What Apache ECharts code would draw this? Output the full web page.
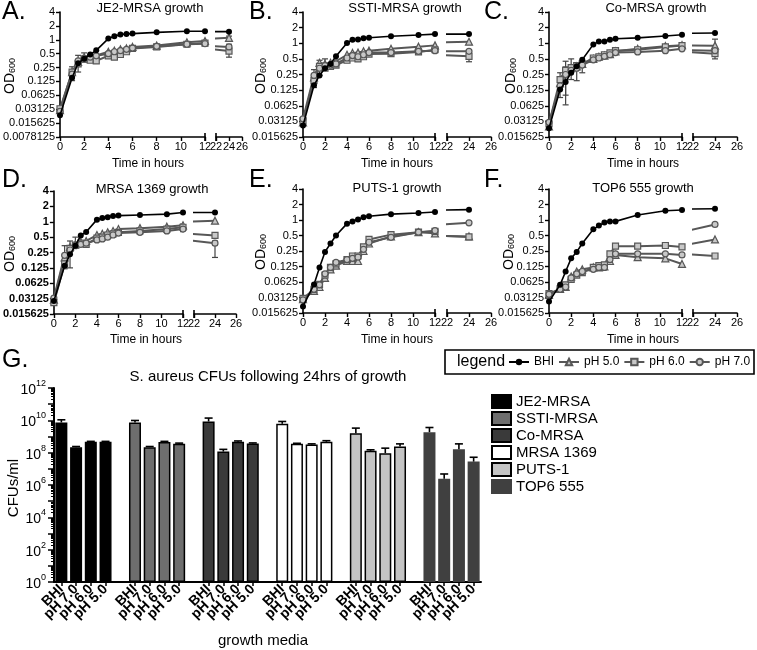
<!DOCTYPE html>
<html><head><meta charset="utf-8">
<script src="https://cdn.jsdelivr.net/npm/echarts@6/dist/echarts.min.js"></script>
<style>html,body{margin:0;padding:0;background:#fff}#c{width:757px;height:650px}</style>
</head><body><div id="c"></div>
<script>
const FONT = '"Liberation Sans", Arial, Helvetica, sans-serif';

// ---------- growth curves (OD600) ----------
const hours = [0, 1, 1.5, 2, 2.5, 3, 4, 4.5, 5, 5.5, 6, 8, 10.5, 12, 24];
const seriesNames = ['BHI', 'pH 5.0', 'pH 6.0', 'pH 7.0'];
const panelTitles = ['JE2-MRSA growth', 'SSTI-MRSA growth', 'Co-MRSA growth', 'MRSA 1369 growth', 'PUTS-1 growth', 'TOP6 555 growth'];
const panelLetters = ['A.', 'B.', 'C.', 'D.', 'E.', 'F.'];

const je2_BHI = [0.023, 0.15, 0.31, 0.39, 0.48, 0.59, 1.06, 1.19, 1.3, 1.34, 1.36, 1.45, 1.53, 1.53, 1.5];
const je2_pH5 = [0.03, 0.2, 0.33, 0.4, 0.43, 0.46, 0.55, 0.58, 0.62, 0.65, 0.7, 0.75, 0.88, 0.94, 1.1];
const je2_pH6 = [0.032, 0.2, 0.3, 0.38, 0.36, 0.35, 0.45, 0.42, 0.48, 0.55, 0.65, 0.7, 0.8, 0.85, 0.57];
const je2_pH7 = [0.028, 0.18, 0.35, 0.4, 0.42, 0.45, 0.5, 0.55, 0.58, 0.62, 0.66, 0.72, 0.8, 0.82, 0.7];
const je2_err = [[1, 0.13, 0.26], [1.5, 0.2, 0.46], [2, 0.33, 0.52], [2.5, 0.34, 0.48], [24, 0.42, 0.8], [24, 1.0, 1.2]];

const ssti_BHI = [0.026, 0.155, 0.24, 0.33, 0.4, 0.56, 1.01, 1.17, 1.18, 1.25, 1.28, 1.36, 1.44, 1.5, 1.5];
const ssti_pH5 = [0.03, 0.22, 0.42, 0.4, 0.42, 0.45, 0.6, 0.65, 0.66, 0.7, 0.72, 0.78, 0.86, 0.91, 1.07];
const ssti_pH6 = [0.032, 0.19, 0.36, 0.33, 0.36, 0.38, 0.47, 0.52, 0.5, 0.55, 0.62, 0.63, 0.68, 0.75, 0.56];
const ssti_pH7 = [0.035, 0.24, 0.33, 0.37, 0.38, 0.4, 0.52, 0.58, 0.55, 0.6, 0.66, 0.66, 0.7, 0.72, 0.7];
const ssti_err = [[1, 0.14, 0.31], [1.5, 0.24, 0.47], [2, 0.33, 0.5], [24, 0.44, 0.7]];

const co_BHI = [0.023, 0.128, 0.18, 0.27, 0.36, 0.48, 0.95, 1.08, 1.08, 1.17, 1.22, 1.27, 1.38, 1.46, 1.58];
const co_pH5 = [0.025, 0.17, 0.28, 0.33, 0.36, 0.4, 0.5, 0.55, 0.58, 0.62, 0.7, 0.78, 0.88, 0.92, 0.9];
const co_pH6 = [0.028, 0.2, 0.3, 0.34, 0.37, 0.4, 0.52, 0.55, 0.6, 0.65, 0.72, 0.75, 0.85, 0.9, 0.63];
const co_pH7 = [0.03, 0.15, 0.25, 0.3, 0.33, 0.38, 0.48, 0.52, 0.56, 0.6, 0.66, 0.68, 0.72, 0.78, 0.72];
const co_err = [[1, 0.09, 0.27], [1.5, 0.065, 0.35], [1.5, 0.1, 0.45], [2, 0.2, 0.5], [2.5, 0.19, 0.42], [3, 0.27, 0.4], [24, 0.8, 1.2], [24, 0.5, 0.75]];

const m1369_BHI = [0.028, 0.137, 0.23, 0.34, 0.54, 0.63, 1.1, 1.19, 1.23, 1.29, 1.32, 1.36, 1.41, 1.52, 1.52];
const m1369_pH5 = [0.03, 0.2, 0.32, 0.36, 0.4, 0.42, 0.55, 0.58, 0.62, 0.66, 0.72, 0.75, 0.8, 0.85, 1.05];
const m1369_pH6 = [0.026, 0.15, 0.3, 0.35, 0.38, 0.36, 0.48, 0.5, 0.55, 0.58, 0.62, 0.66, 0.72, 0.78, 0.54];
const m1369_pH7 = [0.032, 0.22, 0.28, 0.34, 0.36, 0.38, 0.44, 0.46, 0.5, 0.55, 0.6, 0.62, 0.66, 0.72, 0.38];
const m1369_err = [[1, 0.12, 0.34], [1.5, 0.125, 0.42], [2, 0.34, 0.5], [12, 0.64, 0.9], [24, 0.2, 0.42]];

const puts_BHI = [0.021, 0.056, 0.12, 0.24, 0.35, 0.5, 0.85, 0.93, 1.02, 1.13, 1.18, 1.3, 1.37, 1.43, 1.59];
const puts_pH5 = [0.029, 0.042, 0.05, 0.075, 0.11, 0.13, 0.16, 0.16, 0.16, 0.25, 0.35, 0.48, 0.58, 0.55, 0.48];
const puts_pH6 = [0.03, 0.045, 0.056, 0.085, 0.12, 0.14, 0.17, 0.2, 0.2, 0.3, 0.42, 0.52, 0.58, 0.6, 0.47];
const puts_pH7 = [0.028, 0.045, 0.055, 0.09, 0.12, 0.15, 0.17, 0.18, 0.19, 0.27, 0.37, 0.46, 0.58, 0.62, 0.88];
const puts_err = [];

const top6_BHI = [0.026, 0.055, 0.1, 0.18, 0.24, 0.35, 0.66, 0.78, 0.89, 0.94, 0.94, 1.25, 1.51, 1.56, 1.65];
const top6_pH5 = [0.035, 0.046, 0.05, 0.08, 0.1, 0.11, 0.12, 0.12, 0.125, 0.16, 0.21, 0.19, 0.18, 0.14, 0.42];
const top6_pH6 = [0.037, 0.046, 0.055, 0.07, 0.085, 0.095, 0.12, 0.13, 0.135, 0.22, 0.31, 0.31, 0.32, 0.3, 0.2];
const top6_pH7 = [0.036, 0.045, 0.05, 0.075, 0.09, 0.1, 0.11, 0.12, 0.12, 0.17, 0.22, 0.22, 0.22, 0.21, 0.82];
const top6_err = [];

const growth = [
  [je2_BHI, je2_pH5, je2_pH6, je2_pH7],
  [ssti_BHI, ssti_pH5, ssti_pH6, ssti_pH7],
  [co_BHI, co_pH5, co_pH6, co_pH7],
  [m1369_BHI, m1369_pH5, m1369_pH6, m1369_pH7],
  [puts_BHI, puts_pH5, puts_pH6, puts_pH7],
  [top6_BHI, top6_pH5, top6_pH6, top6_pH7]
];
const growthErr = [je2_err, ssti_err, co_err, m1369_err, puts_err, top6_err];

// ---------- CFU bar chart ----------
const strains = ['JE2-MRSA', 'SSTI-MRSA', 'Co-MRSA', 'MRSA 1369', 'PUTS-1', 'TOP6 555'];
const mediaLabels = ['BHI', 'pH 7.0', 'pH 6.0', 'pH 5.0'];
const cfu_je2 = [7.4e9, 2.2e8, 4.7e8, 4.7e8];
const cfu_ssti = [7.4e9, 2.2e8, 4.6e8, 3.6e8];
const cfu_co = [8.5e9, 1.17e8, 4.7e8, 3.7e8];
const cfu_1369 = [6.1e9, 3.5e8, 3.2e8, 4.7e8];
const cfu_puts = [1.6e9, 1.3e8, 9.3e7, 2.4e8];
const cfu_top6 = [1.86e9, 2.4e6, 1.6e8, 2.8e7];
const cfuErr_je2 = [1.08e10, 2.4e8, 5e8, 5e8];
const cfuErr_ssti = [9.8e9, 2.4e8, 5e8, 3.9e8];
const cfuErr_co = [1.38e10, 1.6e8, 5.3e8, 4e8];
const cfuErr_1369 = [8.5e9, 3.8e8, 3.5e8, 5.5e8];
const cfuErr_puts = [3.3e9, 1.5e8, 1.9e8, 3.5e8];
const cfuErr_top6 = [3.6e9, 4.8e6, 3.5e8, 5.2e7];
const cfuValues = [cfu_je2, cfu_ssti, cfu_co, cfu_1369, cfu_puts, cfu_top6];
const cfuErrors = [cfuErr_je2, cfuErr_ssti, cfuErr_co, cfuErr_1369, cfuErr_puts, cfuErr_top6];

// ---------- layout / styles ----------
const layout = [
  {L: [54, 205], R: [216, 242], top: 12, bot: 137, ymin: 0.0078125, letter: [2, 0], title: [150, 8], xt: [148, 164], od: [8, 76]},
  {L: [303, 435], R: [447, 491], top: 12, bot: 137, ymin: 0.015625, letter: [249, 0], title: [405, 8], xt: [397, 164], od: [259, 76]},
  {L: [549, 682], R: [693, 737], top: 12, bot: 137, ymin: 0.015625, letter: [484, 0], title: [656, 8], xt: [643, 164], od: [509, 76]},
  {L: [53, 183], R: [194, 236], top: 191, bot: 314, ymin: 0.015625, letter: [2, 168], title: [152, 189], xt: [146, 340], od: [8, 254], bold: true},
  {L: [303, 435], R: [447, 491], top: 189, bot: 313, ymin: 0.015625, letter: [249, 168], title: [397, 188], xt: [397, 340], od: [259, 252]},
  {L: [549, 682], R: [693, 737], top: 189, bot: 313, ymin: 0.015625, letter: [484, 168], title: [643, 188], xt: [643, 340], od: [507, 252]}
];
const GREY = '#575757';
const seriesStyle = [
  {symbol: 'circle', symbolSize: 6, itemStyle: {color: '#000'}, lineStyle: {color: '#000', width: 1.6}, z: 5},
  {symbol: 'triangle', symbolSize: 7, itemStyle: {color: '#c8c8c8', borderColor: GREY, borderWidth: 1.2}, lineStyle: {color: GREY, width: 2}, z: 3},
  {symbol: 'rect', symbolSize: 6, itemStyle: {color: '#c8c8c8', borderColor: GREY, borderWidth: 1.2}, lineStyle: {color: GREY, width: 2}, z: 3},
  {symbol: 'circle', symbolSize: 6, itemStyle: {color: '#c8c8c8', borderColor: GREY, borderWidth: 1.2}, lineStyle: {color: GREY, width: 2}, z: 3}
];
const barFill = ['#000000', '#6e6e6e', '#3a3a3a', '#ffffff', '#c4c4c4', '#404040'];
const barBorder = ['#000', '#000', '#000', '#000', '#000', '#404040'];

const grids = [], xAxes = [], yAxes = [], series = [], graphics = [];
const axisBase = {
  axisLine: {show: true, lineStyle: {color: '#000', width: 1.6}},
  axisTick: {show: true, length: 4, lineStyle: {color: '#000', width: 1.4}},
  splitLine: {show: false}
};
function fmtNum(v) { return String(parseFloat(v.toPrecision(8))); }

function errRender(params, api) {
  const x = api.value(0);
  const a = api.coord([x, api.value(2)]);
  const b = api.coord([x, api.value(1)]);
  const w = 3, st = {stroke: '#444', lineWidth: 1.2};
  return {type: 'group', children: [
    {type: 'line', shape: {x1: a[0], y1: a[1], x2: b[0], y2: b[1]}, style: st},
    {type: 'line', shape: {x1: a[0] - w, y1: a[1], x2: a[0] + w, y2: a[1]}, style: st},
    {type: 'line', shape: {x1: b[0] - w, y1: b[1], x2: b[0] + w, y2: b[1]}, style: st}
  ]};
}

growth.forEach((panel, pi) => {
  const lay = layout[pi];
  [['L', 0, 12], ['R', 22, 26]].forEach(([side, mn, mx], j) => {
    const [x0, x1] = lay[side];
    grids.push({left: x0, top: lay.top, width: x1 - x0, height: lay.bot - lay.top});
    const gi = grids.length - 1;
    xAxes.push(Object.assign({}, axisBase, {
      gridIndex: gi, type: 'value', min: mn, max: mx, interval: 2,
      axisLabel: {fontSize: 11, color: '#000', margin: 4, fontFamily: FONT}
    }));
    yAxes.push(Object.assign({}, axisBase, {
      gridIndex: gi, type: 'log', logBase: 2, min: lay.ymin, max: 4, show: j === 0,
      axisLabel: {fontSize: 11, color: '#000', margin: 5, fontFamily: FONT, fontWeight: lay.bold ? 'bold' : 'normal', formatter: fmtNum}
    }));
    series.push({
      type: 'custom', xAxisIndex: gi, yAxisIndex: gi, clip: true, silent: true, z: 2,
      renderItem: errRender, data: growthErr[pi], encode: {x: 0, y: [1, 2]}
    });
    [1, 2, 3, 0].forEach(si => {
      const st = seriesStyle[si];
      series.push({
        type: 'line', name: seriesNames[si], xAxisIndex: gi, yAxisIndex: gi, clip: true,
        symbol: st.symbol, symbolSize: st.symbolSize, itemStyle: st.itemStyle, lineStyle: st.lineStyle, z: st.z,
        showSymbol: true, emphasis: {disabled: true}, silent: true,
        data: hours.map((h, k) => [h, panel[si][k]])
      });
    });
  });
  // axis-break bars at the end of the left axis and start of the right axis
  [lay.L[1], lay.R[0]].forEach(bx => {
    graphics.push({type: 'line', shape: {x1: bx, y1: lay.bot - 4, x2: bx, y2: lay.bot + 4}, style: {stroke: '#000', lineWidth: 1.6}});
  });
  graphics.push({type: 'text', left: lay.letter[0], top: lay.letter[1], style: {text: panelLetters[pi], font: '25px ' + FONT, fill: '#000'}});
  graphics.push({type: 'text', x: lay.title[0], y: lay.title[1], style: {text: panelTitles[pi], font: '13px ' + FONT, fill: '#000', align: 'center', verticalAlign: 'middle'}});
  graphics.push({type: 'text', x: lay.xt[0], y: lay.xt[1], style: {text: 'Time in hours', font: '12px ' + FONT, fill: '#000', align: 'center', verticalAlign: 'middle'}});
  graphics.push({type: 'text', x: lay.od[0], y: lay.od[1], rotation: Math.PI / 2,
    style: {text: '{a|OD}{b|600}', align: 'center', verticalAlign: 'middle', fill: '#000',
      rich: {a: {fontSize: 14, fontFamily: FONT, lineHeight: 18, verticalAlign: 'bottom'}, b: {fontSize: 9, fontFamily: FONT, lineHeight: 9, verticalAlign: 'bottom'}}}});
});

// growth legend box
graphics.push({type: 'rect', shape: {x: 445, y: 350, width: 309, height: 24}, style: {fill: 'none', stroke: '#000', lineWidth: 1.6}});
graphics.push({type: 'text', x: 457, y: 362, style: {text: 'legend', font: '16px ' + FONT, fill: '#000', verticalAlign: 'middle'}});

// ---------- bar chart G ----------
const cats = [];
strains.forEach((s, gi) => { if (gi) cats.push(''); mediaLabels.forEach(m => cats.push(m)); });
grids.push({left: 54, top: 388, width: 427, height: 194});
const gG = grids.length - 1;
xAxes.push({
  gridIndex: gG, type: 'category', data: cats,
  axisLine: {show: true, lineStyle: {color: '#000', width: 2}},
  axisTick: {show: true, alignWithLabel: true, length: 4, interval: (i, v) => v !== '', lineStyle: {color: '#000', width: 1.5}},
  axisLabel: {interval: 0, rotate: 45, fontSize: 14, fontWeight: 'bold', color: '#000', fontFamily: FONT, margin: 5}
});
yAxes.push({
  gridIndex: gG, type: 'log', logBase: 10, min: 1, max: 1e12, interval: 1, splitNumber: 12,
  axisLine: {show: true, lineStyle: {color: '#000', width: 2}},
  axisTick: {show: true, length: 6, lineStyle: {color: '#000', width: 1.5}},
  minorTick: {show: true, splitNumber: 9, length: 3, lineStyle: {color: '#000', width: 1}},
  splitLine: {show: false}, minorSplitLine: {show: false},
  axisLabel: {color: '#000', margin: 8, fontFamily: FONT,
    formatter: v => { const e = Math.round(Math.log10(v)); return e % 2 ? '' : '{a|10}{b|' + e + '}'; },
    rich: {a: {fontSize: 14, fontFamily: FONT, lineHeight: 18, verticalAlign: 'bottom'}, b: {fontSize: 9, fontFamily: FONT, lineHeight: 10, verticalAlign: 'top'}}}
});
const errData = [];
strains.forEach((s, gi) => {
  const data = cats.map(() => '-');
  cfuValues[gi].forEach((v, k) => { data[gi * 5 + k] = v; errData.push([gi * 5 + k, v, cfuErrors[gi][k]]); });
  series.push({
    type: 'bar', name: s, xAxisIndex: gG, yAxisIndex: gG, data, barWidth: 12, barGap: '-100%',
    itemStyle: {color: barFill[gi], borderColor: barBorder[gi], borderWidth: 1.5}, silent: true, emphasis: {disabled: true}
  });
});
series.push({
  type: 'custom', xAxisIndex: gG, yAxisIndex: gG, silent: true, z: 3, data: errData, encode: {x: 0, y: [1, 2]},
  renderItem: (params, api) => {
    const x = api.value(0);
    const a = api.coord([x, api.value(1)]), b = api.coord([x, api.value(2)]);
    const st = {stroke: '#000', lineWidth: 1.6};
    return {type: 'group', children: [
      {type: 'line', shape: {x1: a[0], y1: a[1], x2: b[0], y2: b[1]}, style: st},
      {type: 'line', shape: {x1: b[0] - 4, y1: b[1], x2: b[0] + 4, y2: b[1]}, style: st}
    ]};
  }
});
graphics.push({type: 'text', left: 2, top: 348, style: {text: 'G.', font: '25px ' + FONT, fill: '#000'}});
graphics.push({type: 'text', x: 268, y: 377, style: {text: 'S. aureus CFUs following 24hrs of growth', font: '15px ' + FONT, fill: '#000', align: 'center', verticalAlign: 'middle'}});
graphics.push({type: 'text', x: 14, y: 488, rotation: Math.PI / 2, style: {text: 'CFUs/ml', font: '15px ' + FONT, fill: '#000', align: 'center', verticalAlign: 'middle'}});
graphics.push({type: 'text', x: 263, y: 641, style: {text: 'growth media', font: '15px ' + FONT, fill: '#000', align: 'center', verticalAlign: 'middle'}});

const chart = echarts.init(document.getElementById('c'), null, {renderer: 'canvas'});
chart.setOption({
  animation: false,
  textStyle: {fontFamily: FONT},
  grid: grids, xAxis: xAxes, yAxis: yAxes, series,
  legend: [
    {data: seriesNames, left: 508, top: 356, width: 250, itemWidth: 20, itemHeight: 8, itemGap: 4, padding: 0,
      textStyle: {fontSize: 12, color: '#000', fontFamily: FONT}, selectedMode: false},
    {data: strains, orient: 'vertical', left: 491, top: 394, padding: 0, icon: 'rect', itemWidth: 19, itemHeight: 13, itemGap: 2,
      textStyle: {fontSize: 15, color: '#000', fontFamily: FONT}, selectedMode: false}
  ],
  graphic: graphics
});
</script></body></html>
